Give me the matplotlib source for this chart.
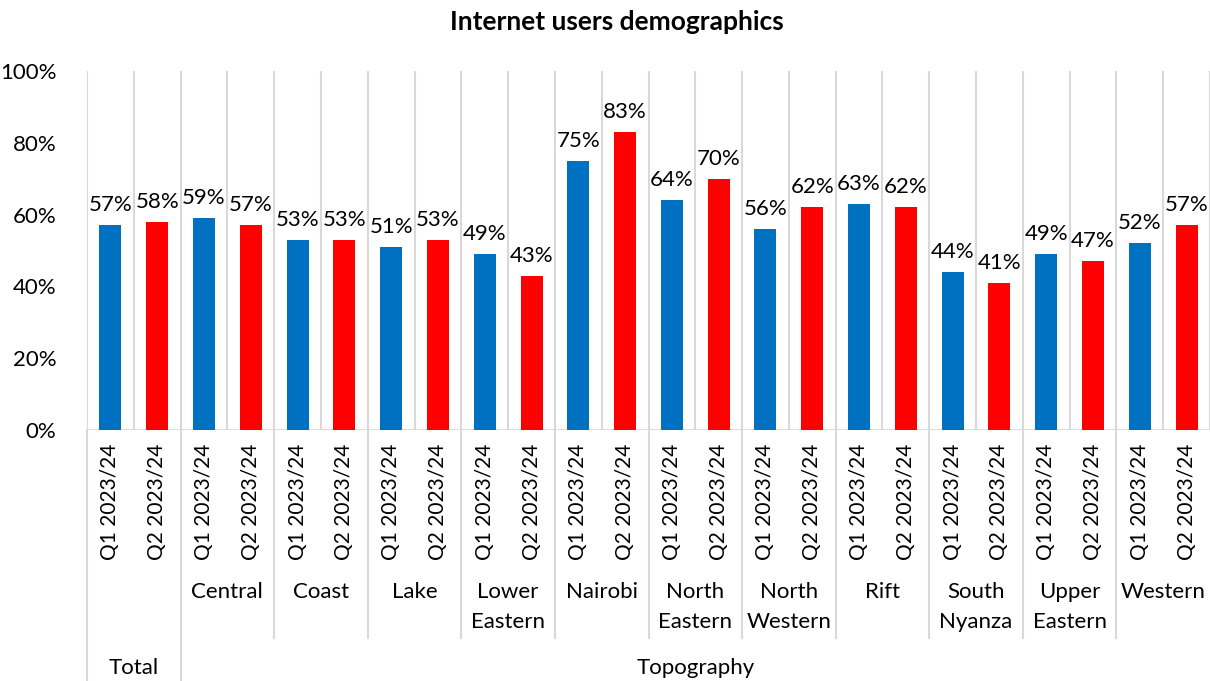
import numpy as np
import matplotlib.pyplot as plt
from matplotlib.transforms import blended_transform_factory

plt.rcParams['font.family'] = ['Lato', 'DejaVu Sans']

regions = ["Total", "Central", "Coast", "Lake", "Lower\nEastern", "Nairobi",
           "North\nEastern", "North\nWestern", "Rift", "South\nNyanza",
           "Upper\nEastern", "Western"]
quarters = ["Q1 2023/24", "Q2 2023/24"]
q1_values = [57, 59, 53, 51, 49, 75, 64, 56, 63, 44, 49, 52]
q2_values = [58, 57, 53, 53, 43, 83, 70, 62, 62, 41, 47, 57]
top_groups = ["Total", "Topography"]
top_group_sizes = [1, 11]   # number of regions in each outer group

BLUE = "#0070C0"
RED = "#FF0000"
GRID = "#D9D9D9"
FS = 16

W, H = 1210, 681
fig = plt.figure(figsize=(W / 100, H / 100), dpi=100)
# plot area in pixels: x 87..1210, y 71..430
ax = fig.add_axes([87 / W, 1 - 430 / H, (1210 - 87) / W, (430 - 71) / H])

n = len(regions)
values = []
colors = []
for a, b in zip(q1_values, q2_values):
    values += [a / 100, b / 100]
    colors += [BLUE, RED]
x = np.arange(2 * n)

ax.bar(x, values, width=0.47, color=colors, zorder=3)
for xi, v in zip(x, values):
    ax.text(xi, v + 0.028, f"{round(v * 100)}%", ha="center", va="bottom",
            fontsize=FS, color="#000000", zorder=4)

ax.set_xlim(-0.5, 2 * n - 0.5)
ax.set_ylim(0, 1)
ax.set_yticks(np.arange(0, 1.01, 0.2))
ax.set_yticklabels([f"{int(t * 100)}%" for t in np.arange(0, 1.01, 0.2)])
ax.tick_params(axis="y", length=0, pad=22, labelsize=FS, labelcolor="#000000")
ax.tick_params(axis="x", length=0, labelbottom=False)
for s in ax.spines.values():
    s.set_visible(False)

# vertical gridlines at every slot boundary
for b in np.arange(-0.5, 2 * n, 1.0):
    ax.axvline(b, color=GRID, lw=1.5, zorder=1)
ax.axhline(0, color=GRID, lw=2, zorder=2)

# multi-level category axis below the plot
trans = blended_transform_factory(ax.transData, ax.transAxes)
def py(p):
    return (430 - p) / (430 - 71)

for xi in x:
    ax.text(xi, py(444), quarters[xi % 2], rotation=90, ha="center", va="top",
            fontsize=15, transform=trans, clip_on=False)

for i, r in enumerate(regions):
    if i > 0:
        ax.text(2 * i + 0.5, py(582), r, ha="center", va="top", fontsize=FS,
                linespacing=1.6, transform=trans, clip_on=False)

# region separators
for i in range(1, n):
    b = 2 * i - 0.5
    bottom = 681 if i == top_group_sizes[0] else 638
    ax.plot([b, b], [py(430), py(bottom)], color=GRID, lw=1.5,
            transform=trans, clip_on=False)
ax.plot([-0.5, -0.5], [py(430), py(681)], color=GRID, lw=1.5,
        transform=trans, clip_on=False)

start = 0
for g, size in zip(top_groups, top_group_sizes):
    center = (2 * start + 2 * (start + size) - 1) / 2
    ax.text(center, py(668), g, ha="center", va="center", fontsize=FS,
            transform=trans, clip_on=False)
    start += size

fig.text(617 / W, 1 - 22 / H, "Internet users demographics", ha="center",
         va="center", fontsize=19, fontweight="bold")

fig.savefig("out.png", dpi=100)
